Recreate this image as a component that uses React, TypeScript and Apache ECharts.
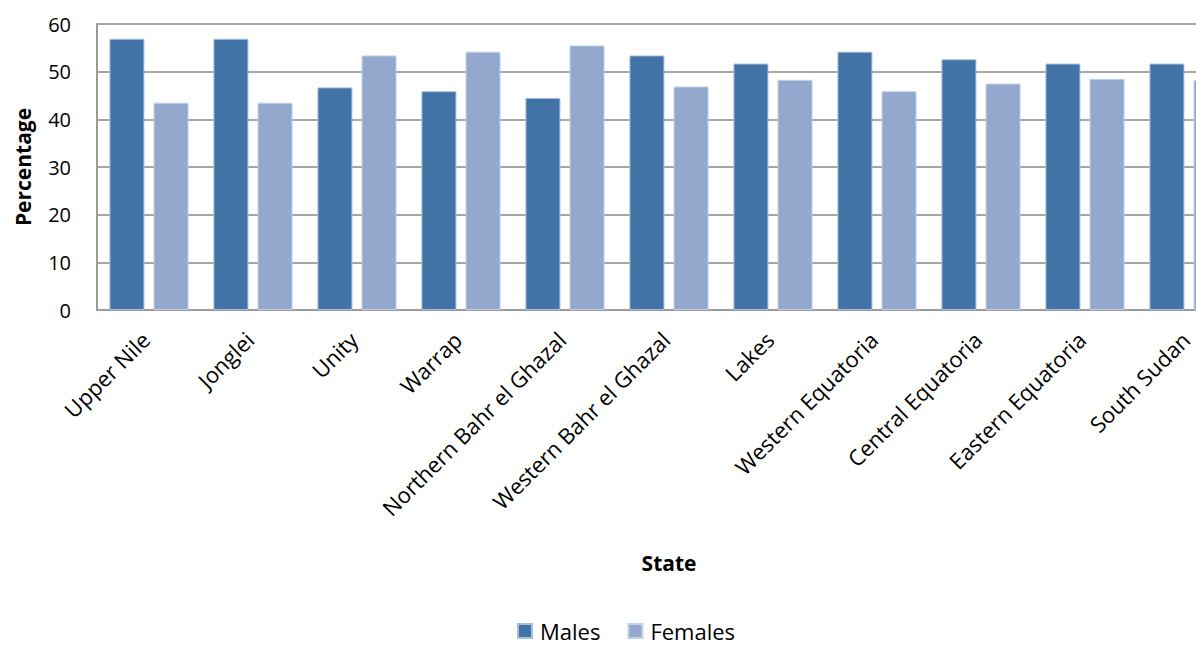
import React, { useEffect, useRef } from "react";
import * as echarts from "echarts";

const categories = [
  "Upper Nile",
  "Jonglei",
  "Unity",
  "Warrap",
  "Northern Bahr el Ghazal",
  "Western Bahr el Ghazal",
  "Lakes",
  "Western Equatoria",
  "Central Equatoria",
  "Eastern Equatoria",
  "South Sudan",
];
const males = [56.9, 56.9, 46.7, 45.9, 44.5, 53.4, 51.7, 54.2, 52.6, 51.7, 51.7];
const females = [43.5, 43.5, 53.4, 54.2, 55.5, 46.9, 48.3, 45.9, 47.5, 48.5, 48.2];
const yTicks = { min: 0, max: 60, interval: 10 };

const FONT = "'Open Sans', 'Liberation Sans', sans-serif";

export default function App() {
  const ref = useRef<HTMLDivElement>(null);
  useEffect(() => {
    if (!ref.current) return;
    const chart = echarts.init(ref.current, undefined, { renderer: "svg" });
    chart.setOption({
      animation: false,
      backgroundColor: "#ffffff",
      textStyle: { fontFamily: FONT },
      grid: { left: 97, top: 24, width: 1144, height: 286 },
      legend: {
        top: 617,
        left: 515,
        itemWidth: 14,
        itemHeight: 14,
        itemGap: 27,
        padding: 2,
        icon: "rect",
        textStyle: { fontSize: 22, lineHeight: 24, color: "#000", fontFamily: FONT, padding: [0, 0, 0, 3] },
        data: ["Males", "Females"],
      },
      xAxis: {
        type: "category",
        data: categories,
        name: "State",
        nameLocation: "middle",
        nameGap: 242,
        nameTextStyle: { fontSize: 21, fontWeight: "bold", color: "#000", fontFamily: FONT },
        axisLine: { show: true, lineStyle: { color: "#9a9a9a", width: 2 } },
        axisTick: { show: false },
        axisLabel: {
          rotate: 45,
          margin: 22,
          fontSize: 22,
          padding: [0, 5, 0, 0],
          color: "#000",
          fontFamily: FONT,
          interval: 0,
        },
      },
      yAxis: {
        type: "value",
        min: yTicks.min,
        max: yTicks.max,
        interval: yTicks.interval,
        name: "Percentage",
        nameLocation: "middle",
        nameGap: 64,
        nameTextStyle: { fontSize: 21, fontWeight: "bold", color: "#000", fontFamily: FONT },
        axisLine: { show: true, lineStyle: { color: "#9a9a9a", width: 2 } },
        axisTick: { show: false },
        axisLabel: { fontSize: 20, color: "#000", margin: 26, fontFamily: FONT },
        splitLine: { show: true, lineStyle: { color: "#a6a6a6", width: 2 } },
      },
      series: [
        {
          name: "Males",
          type: "bar",
          data: males,
          barWidth: 35,
          barGap: "26%",
          itemStyle: { color: "#4173a6", borderColor: "#a9bedb", borderWidth: 1 },
        },
        {
          name: "Females",
          type: "bar",
          data: females,
          barWidth: 35,
          itemStyle: { color: "#94a8ce", borderColor: "#c3d0e6", borderWidth: 1 },
        },
      ],
    });
    return () => chart.dispose();
  }, []);
  return (
    <div
      style={{
        position: "fixed",
        left: 0,
        top: 0,
        width: 1196,
        height: 645,
        overflow: "hidden",
        background: "#fff",
      }}
    >
      <div ref={ref} style={{ width: 1260, height: 645 }} />
    </div>
  );
}
